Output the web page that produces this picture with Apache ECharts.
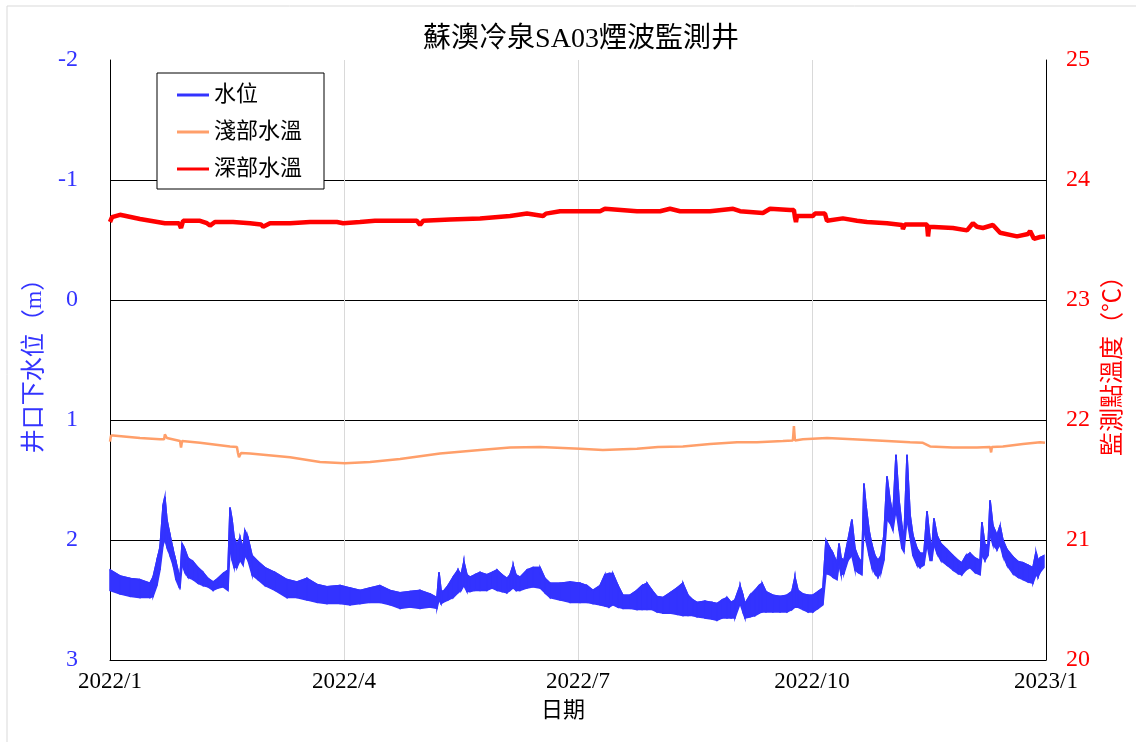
<!DOCTYPE html>
<html>
<head>
<meta charset="utf-8">
<title>蘇澳冷泉SA03煙波監測井</title>
<script src="https://cdn.jsdelivr.net/npm/echarts@6/dist/echarts.min.js"></script>
<style>
    html, body { margin: 0; padding: 0; background: #fff; }
    #chart { width: 1136px; height: 742px; }
</style>
</head>
<body>
<div id="chart"></div>
<script>
// x 軸: 自 2022/1/1 起算的天數
const xTickLabels = ["2022/1", "2022/4", "2022/7", "2022/10", "2023/1"];

// 水位 (井口下, m): 每個取樣點的潮汐擺盪上緣與下緣
const levelDay = [
    0, 3.9, 7.8, 11.7, 15.6, 16.8, 18.3, 19.5, 20.7, 21.4,
    22.2, 23.4, 24.6, 25.7, 26.9, 27.3, 28.1, 29.2, 30.4, 32.4,
    34.3, 36.3, 38.2, 40.2, 42.1, 44.1, 46.0, 46.8, 47.6, 48.4,
    49.5, 50.7, 51.9, 52.6, 53.8, 55.4, 57.7, 60.4, 64.3, 69.0,
    72.9, 76.8, 80.7, 84.6, 89.7, 93.6, 97.5, 101.4, 105.3, 109.2,
    113.1, 117.0, 120.9, 124.8, 127.5, 128.3, 129.1, 129.9, 131.8, 133.8,
    135.7, 136.9, 138.0, 139.2, 140.4, 142.3, 144.3, 147.0, 149.0, 150.9,
    152.9, 154.8, 156.0, 157.2, 158.3, 159.9, 162.6, 164.9, 167.7, 169.6,
    171.6, 175.5, 179.4, 183.3, 186.0, 188.3, 191.1, 193.0, 194.6, 196.1,
    198.1, 200.0, 202.8, 205.5, 207.5, 209.4, 211.4, 213.3, 215.6, 218.4,
    221.1, 223.4, 225.4, 227.3, 228.9, 232.0, 234.8, 236.7, 238.7, 240.6,
    242.2, 243.7, 245.7, 246.8, 247.6, 249.6, 251.5, 253.1, 254.3, 255.8,
    258.5, 261.3, 264.0, 265.9, 267.1, 268.3, 270.2, 272.2, 274.1, 276.1,
    278.0, 279.2, 280.8, 281.9, 283.5, 284.3, 285.1, 286.2, 287.8, 289.3,
    290.5, 291.7, 293.2, 294.0, 294.8, 296.0, 297.1, 298.3, 299.5, 300.7,
    301.8, 303.0, 304.2, 305.3, 306.5, 307.7, 308.8, 309.6, 310.8, 312.0,
    313.1, 314.7, 315.9, 317.4, 318.6, 319.8, 320.5, 321.3, 322.5, 324.0,
    326.4, 328.7, 330.7, 332.2, 333.8, 335.4, 337.3, 339.3, 340.0, 341.2,
    342.4, 343.2, 344.3, 345.9, 347.1, 348.2, 349.8, 352.1, 354.1, 356.0,
    358.0, 359.9, 361.1, 361.9, 362.7, 364.2
];
const levelTop = [
    2.25, 2.30, 2.32, 2.33, 2.36, 2.31, 2.17, 2.06, 1.71, 1.64,
    1.83, 1.96, 2.08, 2.18, 2.29, 2.32, 2.03, 2.08, 2.15, 2.18,
    2.23, 2.27, 2.32, 2.35, 2.32, 2.28, 2.25, 1.73, 1.83, 1.98,
    2.04, 1.98, 2.07, 1.92, 1.98, 2.13, 2.18, 2.23, 2.27, 2.33,
    2.35, 2.32, 2.37, 2.39, 2.38, 2.40, 2.42, 2.40, 2.38, 2.42,
    2.44, 2.43, 2.42, 2.45, 2.48, 2.27, 2.42, 2.43, 2.38, 2.31,
    2.25, 2.29, 2.18, 2.29, 2.31, 2.29, 2.27, 2.29, 2.27, 2.25,
    2.29, 2.32, 2.29, 2.21, 2.29, 2.31, 2.25, 2.23, 2.23, 2.32,
    2.36, 2.36, 2.35, 2.36, 2.38, 2.42, 2.38, 2.29, 2.28, 2.28,
    2.38, 2.46, 2.46, 2.42, 2.38, 2.36, 2.42, 2.47, 2.48, 2.44,
    2.40, 2.36, 2.46, 2.50, 2.52, 2.51, 2.52, 2.53, 2.50, 2.48,
    2.52, 2.50, 2.38, 2.46, 2.53, 2.46, 2.42, 2.38, 2.36, 2.43,
    2.46, 2.47, 2.46, 2.43, 2.31, 2.42, 2.45, 2.46, 2.46, 2.43,
    2.40, 2.00, 2.07, 2.11, 2.19, 2.03, 2.15, 2.17, 2.00, 1.83,
    2.07, 2.14, 2.19, 1.53, 1.71, 1.92, 2.04, 2.13, 2.17, 2.13,
    1.96, 1.47, 1.67, 1.79, 1.29, 1.67, 1.88, 2.00, 1.29, 1.79,
    1.96, 2.07, 2.11, 2.11, 1.76, 2.00, 2.08, 1.82, 1.96, 2.03,
    2.08, 2.13, 2.17, 2.19, 2.13, 2.11, 2.15, 2.17, 1.85, 2.04,
    2.04, 1.67, 1.88, 1.96, 1.88, 2.00, 2.08, 2.14, 2.18, 2.19,
    2.21, 2.23, 2.10, 2.17, 2.15, 2.13
];
const levelBottom = [
    2.42, 2.45, 2.47, 2.48, 2.48, 2.47, 2.38, 2.25, 2.04, 2.00,
    2.06, 2.13, 2.21, 2.33, 2.39, 2.40, 2.21, 2.27, 2.31, 2.33,
    2.36, 2.38, 2.39, 2.42, 2.40, 2.39, 2.42, 2.08, 2.17, 2.23,
    2.23, 2.17, 2.21, 2.13, 2.17, 2.29, 2.33, 2.38, 2.42, 2.48,
    2.48, 2.50, 2.52, 2.53, 2.53, 2.54, 2.53, 2.52, 2.52, 2.54,
    2.57, 2.56, 2.57, 2.56, 2.57, 2.50, 2.53, 2.52, 2.50, 2.48,
    2.44, 2.42, 2.38, 2.43, 2.43, 2.42, 2.42, 2.42, 2.40, 2.42,
    2.43, 2.44, 2.42, 2.40, 2.42, 2.42, 2.40, 2.39, 2.40, 2.44,
    2.48, 2.50, 2.52, 2.52, 2.52, 2.53, 2.54, 2.55, 2.56, 2.54,
    2.56, 2.57, 2.57, 2.58, 2.58, 2.58, 2.58, 2.60, 2.61, 2.61,
    2.62, 2.63, 2.63, 2.63, 2.64, 2.65, 2.66, 2.67, 2.65, 2.65,
    2.65, 2.65, 2.53, 2.60, 2.65, 2.64, 2.63, 2.61, 2.60, 2.60,
    2.60, 2.60, 2.60, 2.58, 2.56, 2.56, 2.58, 2.60, 2.60, 2.57,
    2.54, 2.28, 2.29, 2.31, 2.33, 2.21, 2.29, 2.28, 2.17, 2.13,
    2.25, 2.27, 2.29, 1.92, 2.00, 2.13, 2.23, 2.28, 2.31, 2.27,
    2.17, 1.83, 1.86, 1.92, 1.75, 1.92, 2.07, 2.10, 1.83, 1.98,
    2.13, 2.21, 2.23, 2.21, 2.04, 2.17, 2.17, 2.04, 2.11, 2.17,
    2.21, 2.25, 2.28, 2.29, 2.25, 2.23, 2.27, 2.29, 2.13, 2.17,
    2.13, 1.96, 2.04, 2.08, 2.04, 2.13, 2.21, 2.28, 2.31, 2.33,
    2.35, 2.36, 2.29, 2.31, 2.27, 2.23
];

// 淺部水溫 (°C)
const shallowDay = [
    0, 0.4, 1.2, 11.7, 19.5, 21.1, 21.4, 22.2, 27.3, 27.7,
    28.1, 35.1, 46.8, 49.5, 49.9, 50.3, 51.1, 54.6, 70.2, 81.9,
    91.6, 101.4, 113.1, 128.7, 144.3, 156.0, 167.7, 183.3, 192.2, 205.5,
    213.7, 223.4, 234.0, 244.5, 252.3, 262.4, 266.3, 266.7, 267.1, 270.2,
    279.6, 289.7, 303.0, 312.0, 317.0, 319.8, 328.7, 338.1, 343.2, 343.6,
    343.9, 348.2, 356.0, 362.7, 364.6
];
const shallowTemp = [
    21.82, 21.87, 21.87, 21.85, 21.84, 21.84, 21.88, 21.85, 21.825, 21.77,
    21.825, 21.81, 21.78, 21.775, 21.725, 21.69, 21.725, 21.72, 21.69, 21.65,
    21.64, 21.65, 21.675, 21.72, 21.75, 21.77, 21.775, 21.76, 21.75, 21.76,
    21.775, 21.78, 21.80, 21.815, 21.815, 21.825, 21.83, 21.95, 21.83, 21.84,
    21.85, 21.84, 21.825, 21.815, 21.81, 21.78, 21.77, 21.77, 21.775, 21.73,
    21.775, 21.78, 21.80, 21.815, 21.81
];

// 深部水溫 (°C)
const deepDay = [
    0, 0.8, 3.9, 11.7, 21.4, 26.9, 27.7, 28.5, 35.1, 37.8,
    39.0, 40.9, 48.0, 54.6, 58.9, 59.7, 62.4, 70.2, 78.0, 88.5,
    90.9, 97.5, 103.3, 119.7, 120.9, 122.1, 132.6, 144.3, 156.0, 162.6,
    168.9, 170.0, 175.5, 179.4, 191.1, 193.0, 205.5, 214.5, 218.4, 222.3,
    234.0, 243.0, 245.7, 254.6, 257.4, 265.2, 266.7, 267.1, 267.5, 267.9,
    274.1, 274.9, 278.8, 279.6, 285.8, 291.3, 295.2, 303.0, 308.9, 309.2,
    310.0, 318.6, 319.0, 319.4, 328.7, 334.2, 336.5, 338.1, 340.4, 344.3,
    347.1, 353.7, 358.0, 358.8, 360.3, 362.7, 364.6
];
const deepTemp = [
    23.65, 23.69, 23.71, 23.675, 23.64, 23.64, 23.60, 23.66, 23.66, 23.64,
    23.62, 23.65, 23.65, 23.64, 23.63, 23.61, 23.64, 23.64, 23.65, 23.65,
    23.64, 23.65, 23.66, 23.66, 23.625, 23.66, 23.67, 23.68, 23.70, 23.72,
    23.70, 23.72, 23.74, 23.74, 23.74, 23.76, 23.74, 23.74, 23.76, 23.74,
    23.74, 23.76, 23.74, 23.725, 23.76, 23.75, 23.75, 23.69, 23.65, 23.70,
    23.70, 23.72, 23.72, 23.66, 23.68, 23.66, 23.65, 23.64, 23.625, 23.59,
    23.63, 23.63, 23.53, 23.61, 23.60, 23.58, 23.64, 23.61, 23.60, 23.625,
    23.56, 23.53, 23.55, 23.575, 23.51, 23.525, 23.53
];

function zip(xs, ys) {
    const n = Math.min(xs.length, ys.length);
    const out = [];
    for (let i = 0; i < n; i++) out.push([xs[i], ys[i]]);
    return out;
}

const FONT = "'Liberation Serif', 'Noto Sans CJK TC', serif";
const BLUE = "#3333ff";
const ORANGE = "#ff9f6a";
const RED = "#ff0000";

// 水位帶: 相鄰兩個取樣點之間的上緣/下緣構成一個四邊形
const levelBandData = [];
for (let i = 0; i < levelDay.length - 1; i++) {
    levelBandData.push([
        levelDay[i], levelTop[i], levelBottom[i],
        levelDay[i + 1], levelTop[i + 1], levelBottom[i + 1],
    ]);
}

function renderBand(params, api) {
    const p1 = api.coord([api.value(0), api.value(1)]);
    const p2 = api.coord([api.value(3), api.value(4)]);
    const p3 = api.coord([api.value(3), api.value(5)]);
    const p4 = api.coord([api.value(0), api.value(2)]);
    return {
        type: "polygon",
        shape: { points: [p1, p2, p3, p4] },
        style: { fill: BLUE, stroke: BLUE, lineWidth: 1.5 },
    };
}

const option = {
    animation: false,
    backgroundColor: "#fff",
    textStyle: { fontFamily: FONT },
    graphic: [
        {
            type: "rect",
            shape: { x: 7, y: 6, width: 1140, height: 760 },
            style: { fill: "none", stroke: "#d9d9d9", lineWidth: 1 },
            silent: true,
        },
    ],
    title: {
        text: "蘇澳冷泉SA03煙波監測井",
        left: 576,
        top: 21,
        textAlign: "center",
        textStyle: { fontFamily: FONT, fontSize: 28, fontWeight: "normal", color: "#000" },
    },
    legend: {
        orient: "vertical",
        left: 157,
        top: 73,
        padding: [11, 22, 9, 20],
        icon: "rect",
        itemWidth: 32,
        itemHeight: 3,
        itemGap: 15,
        backgroundColor: "#fff",
        borderColor: "#000",
        borderWidth: 1,
        textStyle: { fontFamily: FONT, fontSize: 22, color: "#000" },
        data: ["水位", "淺部水溫", "深部水溫"],
    },
    grid: { left: 110, right: 90, top: 60, bottom: 82 },
    xAxis: {
        type: "value",
        min: 0,
        max: 365,
        interval: 91.25,
        name: "日期",
        nameLocation: "middle",
        nameGap: 40,
        nameTextStyle: { fontFamily: FONT, fontSize: 22, color: "#000", padding: [0, 30, 0, 0] },
        axisLine: { show: true, onZero: false, lineStyle: { color: "#000", width: 1 } },
        axisTick: { show: false },
        axisLabel: {
            fontFamily: FONT,
            fontSize: 23,
            color: "#000",
            margin: 10,
            formatter: (v) => xTickLabels[Math.round(v / 91.25)],
        },
        splitLine: {
            show: true,
            showMinLine: false,
            showMaxLine: false,
            lineStyle: { color: "#d9d9d9", width: 1 },
        },
    },
    yAxis: [
        {
            type: "value",
            inverse: true,
            min: -2,
            max: 3,
            interval: 1,
            position: "left",
            name: "井口下水位（m）",
            nameLocation: "middle",
            nameRotate: 90,
            nameGap: 62,
            nameTextStyle: { fontFamily: FONT, fontSize: 24, color: BLUE },
            axisLine: { show: true, lineStyle: { color: "#000", width: 1 } },
            axisTick: { show: false },
            axisLabel: { fontFamily: FONT, fontSize: 24, color: BLUE, margin: 32 },
            splitLine: {
                show: true,
                showMinLine: false,
                lineStyle: { color: "#000", width: 1 },
            },
        },
        {
            type: "value",
            min: 20,
            max: 25,
            interval: 1,
            position: "right",
            name: "監測點溫度（℃）",
            nameLocation: "middle",
            nameRotate: 90,
            nameGap: 56,
            nameTextStyle: { fontFamily: FONT, fontSize: 24, color: RED },
            axisLine: { show: true, lineStyle: { color: "#000", width: 1 } },
            axisTick: { show: false },
            axisLabel: { fontFamily: FONT, fontSize: 24, color: RED, margin: 20 },
            splitLine: { show: false },
        },
    ],
    series: [
        {
            name: "水位帶",
            type: "custom",
            yAxisIndex: 0,
            silent: true,
            data: levelBandData,
            encode: { x: [0, 3], y: [1, 2, 4, 5] },
            renderItem: renderBand,
            itemStyle: { color: BLUE },
        },
        {
            name: "水位",
            type: "line",
            yAxisIndex: 0,
            symbol: "none",
            data: zip(levelDay, levelTop),
            lineStyle: { color: BLUE, width: 1.5 },
            itemStyle: { color: BLUE },
        },
        {
            name: "淺部水溫",
            type: "line",
            yAxisIndex: 1,
            symbol: "none",
            data: zip(shallowDay, shallowTemp),
            lineStyle: { color: ORANGE, width: 2.5 },
            itemStyle: { color: ORANGE },
        },
        {
            name: "深部水溫",
            type: "line",
            yAxisIndex: 1,
            symbol: "none",
            data: zip(deepDay, deepTemp),
            lineStyle: { color: RED, width: 4.5 },
            itemStyle: { color: RED },
        },
    ],
};

const chart = echarts.init(document.getElementById("chart"));
chart.setOption(option);
</script>
</body>
</html>
